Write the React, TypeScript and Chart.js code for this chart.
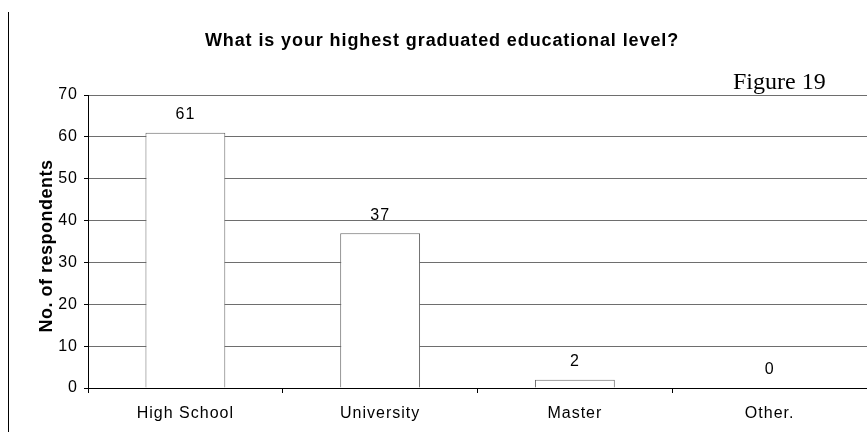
import React, { useEffect, useRef } from "react";
import { Chart, registerables } from "chart.js";

Chart.register(...registerables);

const categories = ["High School", "University", "Master", "Other."];
const respondents = [61, 37, 2, 0];
const yMin = 0;
const yMax = 70;
const yStep = 10;
const chartTitle = "What is your highest graduated educational level?";
const yTitle = "No. of respondents";
const figureLabel = "Figure 19";

const SANS = "'Liberation Sans', Arial, sans-serif";
const SERIF = "'Liberation Serif', 'Times New Roman', serif";

const decorPlugin = {
  id: "decor",
  beforeDraw(chart: any) {
    const ctx = chart.ctx;
    ctx.letterSpacing = "1px";
  },
  afterDraw(chart: any) {
    const ctx = chart.ctx;
    ctx.save();
    // left border line
    ctx.strokeStyle = "#000";
    ctx.lineWidth = 1;
    ctx.beginPath();
    ctx.moveTo(8.5, 12);
    ctx.lineTo(8.5, 432);
    ctx.stroke();

    // title
    ctx.fillStyle = "#000";
    ctx.letterSpacing = "0.9px";
    ctx.font = `bold 18px ${SANS}`;
    ctx.textAlign = "center";
    ctx.textBaseline = "alphabetic";
    ctx.fillText(chartTitle, 442, 46);

    // figure label
    ctx.letterSpacing = "0px";
    ctx.font = `24px ${SERIF}`;
    ctx.textAlign = "left";
    ctx.fillText(figureLabel, 733, 89);

    // y axis title
    ctx.save();
    ctx.translate(47, 246);
    ctx.rotate(-Math.PI / 2);
    ctx.letterSpacing = "0.5px";
    ctx.font = `bold 18px ${SANS}`;
    ctx.textAlign = "center";
    ctx.textBaseline = "middle";
    ctx.fillText(yTitle, 0, 0);
    ctx.restore();

    // data labels
    const meta = chart.getDatasetMeta(0);
    ctx.letterSpacing = "1px";
    ctx.font = `16px ${SANS}`;
    ctx.textAlign = "center";
    ctx.textBaseline = "middle";
    meta.data.forEach((bar: any, i: number) => {
      ctx.fillText(String(respondents[i]), bar.x, bar.y - 18);
    });
    ctx.restore();
  },
};

export default function App() {
  const ref = useRef<HTMLCanvasElement | null>(null);
  useEffect(() => {
    document.body.style.margin = "0";
    const canvas = ref.current!;
    const chart = new Chart(canvas, {
      type: "bar",
      data: {
        labels: categories,
        datasets: [
          {
            data: respondents,
            backgroundColor: "#ffffff",
            borderColor: "#666666",
            borderWidth: 1,
            barPercentage: 0.41,
            categoryPercentage: 1,
          },
        ],
      },
      options: {
        animation: false,
        responsive: false,
        maintainAspectRatio: false,
        layout: { padding: { top: 95, left: 0, right: 0, bottom: 0 } },
        plugins: {
          legend: { display: false },
          tooltip: { enabled: false },
          title: { display: false },
        },
        scales: {
          x: {
            grid: {
              offset: true,
              drawOnChartArea: false,
              drawTicks: true,
              tickLength: 5,
              tickColor: "#000",
            },
            border: { display: true, color: "#000" },
            ticks: {
              color: "#000",
              font: { family: SANS, size: 16 },
              padding: 11,
              maxRotation: 0,
            },
            afterFit(scale: any) {
              scale.height = 44;
            },
          },
          y: {
            min: yMin,
            max: yMax,
            grid: {
              color: "#6e6e6e",
              tickColor: "#000",
              tickLength: 4,
            },
            border: { display: true, color: "#000" },
            ticks: {
              stepSize: yStep,
              color: "#000",
              font: { family: SANS, size: 16 },
              padding: 6,
            },
            afterFit(scale: any) {
              scale.width = 88;
            },
          },
        },
      },
      plugins: [decorPlugin],
    });
    return () => chart.destroy();
  }, []);
  return (
    <div style={{ width: 867, height: 432, background: "#fff" }}>
      <canvas ref={ref} width={867} height={432} style={{ display: "block" }} />
    </div>
  );
}
